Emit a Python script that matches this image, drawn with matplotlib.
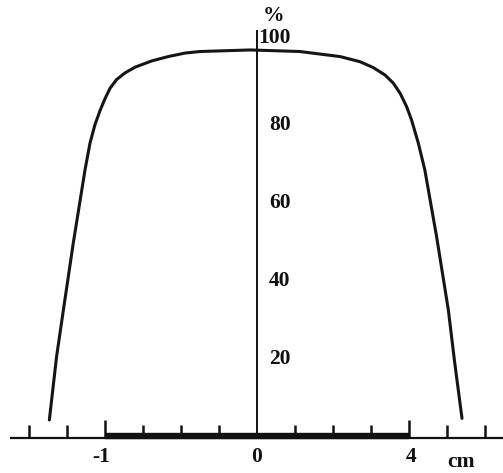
import matplotlib
matplotlib.use("Agg")
import matplotlib.pyplot as plt

# Perfil de dosis transversal (% frente a cm)
PERFIL_CM = [-5.47, -5.28, -5.10, -4.84, -4.53, -4.40, -4.27, -4.13, -4.00,
             -3.87, -3.70, -3.48, -3.21, -2.77, -2.34, -1.90, -1.50, -0.18,
             1.13, 2.19, 2.71, 3.06, 3.37, 3.59, 3.77, 3.94, 4.07, 4.25,
             4.42, 4.73, 5.04, 5.21, 5.40]
PERFIL_PCT = [4.4, 20.6, 32.6, 49.7, 68.5, 75.3, 80.0, 83.8, 86.8,
              89.4, 91.6, 93.3, 94.8, 96.4, 97.5, 98.4, 98.8, 99.2,
              98.8, 97.5, 96.2, 94.7, 92.8, 90.7, 88.1, 84.7, 81.3, 75.3,
              68.5, 51.4, 32.6, 18.9, 4.8]

TICKS_CM = [-6, -5, -4, -3, -2, -1, 1, 2, 3, 4, 5, 6]
TICKS_MAYORES = [-4, 4]
CAMPO_CM = (-4, 4)
ETIQ_X = ["-1", "0", "4"]
POS_ETIQ_X = [-4.1, 0, 4.07]
ETIQ_Y = ["20", "40", "60", "80"]
POS_ETIQ_Y = [20, 40, 60, 80]

FONT = dict(family="Liberation Serif", fontweight="bold", fontsize=15.5, color="#111111")

fig = plt.figure(figsize=(5.03, 4.73), dpi=100)
ax = fig.add_axes([0, 0, 1, 1])
ax.set_xlim(-6.77, 6.48)
ax.set_ylim(-9.2, 112.0)
ax.set_axis_off()

# ejes dibujados a mano
ax.plot([-6.5, 6.48], [-0.3, -0.3], color="#111111", lw=1.6, solid_capstyle="butt")
ax.plot([0, 0], [0, 104.1], color="#111111", lw=1.4)
ax.plot(CAMPO_CM, [0.4, 0.4], color="#111111", lw=4.6, solid_capstyle="butt")

for t in TICKS_CM:
    alto = 4.3 if t in TICKS_MAYORES else 3.0
    ax.plot([t, t], [0, alto], color="#111111", lw=1.8, solid_capstyle="butt")

# curva
ax.plot(PERFIL_CM, PERFIL_PCT, color="#151515", lw=2.2,
        solid_joinstyle="round", solid_capstyle="round")

# rótulos
for txt, x in zip(ETIQ_X, POS_ETIQ_X):
    ax.text(x, -5.2, txt, ha="center", va="center", **FONT)
ax.text(5.37, -6.4, "cm", ha="center", va="center", **FONT)

for txt, y in zip(ETIQ_Y, POS_ETIQ_Y):
    ax.text(0.32, y, txt, ha="left", va="center", **FONT)
ax.text(0.04, 102.2, "100", ha="left", va="center", **FONT)
ax.text(0.43, 107.8, "%", ha="center", va="center", **FONT)

fig.savefig("out.png", dpi=100)
